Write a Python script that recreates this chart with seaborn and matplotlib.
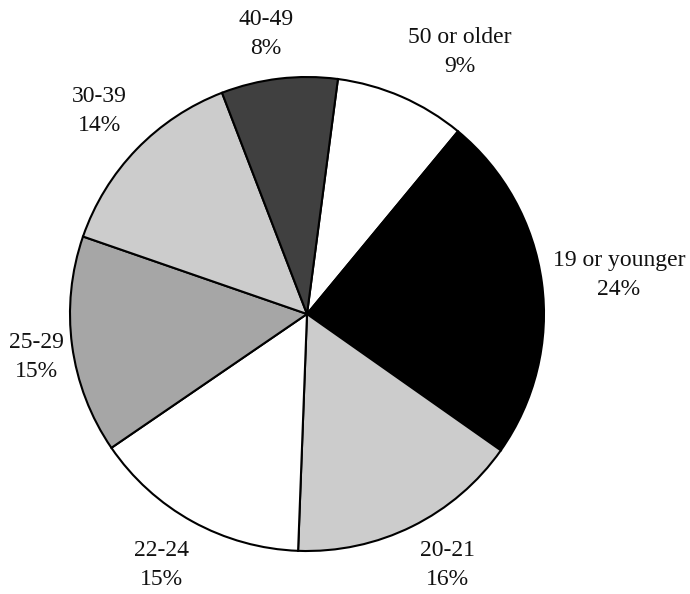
import numpy as np
import matplotlib
matplotlib.use("Agg")
import matplotlib.pyplot as plt
import seaborn as sns

categories = ["50 or older", "19 or younger", "20-21", "22-24", "25-29", "30-39", "40-49"]
values = [9, 24, 16, 15, 15, 14, 8]
pct_labels = ["9%", "24%", "16%", "15%", "15%", "14%", "8%"]

colors = ["#ffffff", "#000000", "#cccccc", "#ffffff", "#a6a6a6", "#cccccc", "#404040"]
label_dist = [1.28, 1.327, 1.215, 1.224, 1.154, 1.224, 1.195]
angle_shift = [-6.8, -0.5, 2.9, -1.2, 1.35, -0.35, 1.6]

sns.set_theme(style="white")
plt.rcParams["font.family"] = ["Liberation Serif", "DejaVu Serif"]

fig = plt.figure(figsize=(6.9, 5.94), dpi=100)
cx, cy, R = 307, 314, 237
ax = fig.add_axes([(cx - R) / 690, (594 - cy - R) / 594, 2 * R / 690, 2 * R / 594])

wedges, _ = ax.pie(values, colors=colors, startangle=82.5, counterclock=False,
                   wedgeprops=dict(edgecolor="black", linewidth=1.5))
ax.set_xlim(-1, 1)
ax.set_ylim(-1, 1)
ax.set_aspect("equal")
ax.axis("off")

for i, w in enumerate(wedges):
    mid = np.deg2rad((w.theta1 + w.theta2) / 2 + angle_shift[i])
    d = label_dist[i]
    ax.text(d * np.cos(mid), d * np.sin(mid), f"{categories[i]}\n{pct_labels[i]}",
            ha="center", va="center", fontsize=17, linespacing=1.5,
            color="#111111", clip_on=False)

fig.savefig("out.png", dpi=100)
